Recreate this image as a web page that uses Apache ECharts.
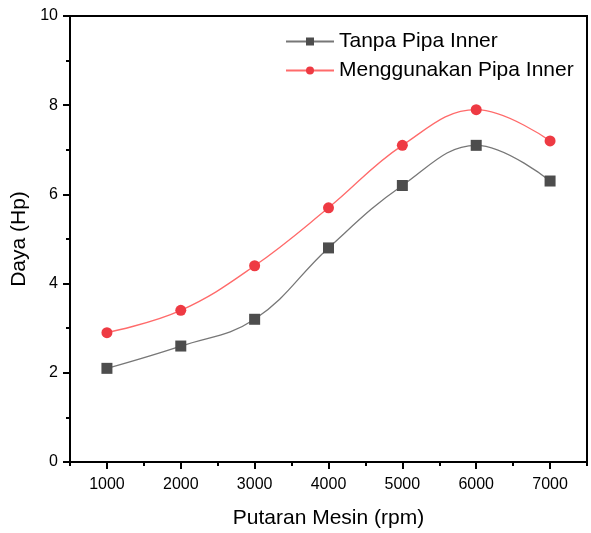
<!DOCTYPE html>
<html><head><meta charset="utf-8">
<script src="https://cdn.jsdelivr.net/npm/echarts@6/dist/echarts.min.js"></script>
<style>html,body{margin:0;padding:0;background:#fff}#c{width:591px;height:533px}</style>
</head><body><div id="c"></div>
<script>
const rpm = [1000, 2000, 3000, 4000, 5000, 6000, 7000];
const tanpa = [2.1, 2.6, 3.2, 4.8, 6.2, 7.1, 6.3];
const menggunakan = [2.9, 3.4, 4.4, 5.7, 7.1, 7.9, 7.2];
const majorX = [1000, 2000, 3000, 4000, 5000, 6000, 7000];
const minorX = [500, 1500, 2500, 3500, 4500, 5500, 6500, 7500];
const seriesNames = ['Tanpa Pipa Inner', 'Menggunakan Pipa Inner'];

const font = 'Arial, "Liberation Sans", sans-serif';
const chart = echarts.init(document.getElementById('c'));
chart.setOption({
  animation: false,
  grid: { left: 70, right: 4, top: 16, bottom: 71, outerBoundsMode: 'none', containLabel: false,
    show: true, borderColor: '#000', borderWidth: 2 },
  legend: {
    orient: 'vertical', left: 280, top: 26, itemWidth: 48, itemHeight: 10, itemGap: 8,
    textStyle: { fontFamily: font, fontSize: 21, color: '#000' },
    data: seriesNames
  },
  xAxis: [{
    type: 'value', min: 500, max: 7500,
    name: 'Putaran Mesin (rpm)', nameLocation: 'middle', nameGap: 46,
    nameTextStyle: { fontFamily: font, fontSize: 21, color: '#000' },
    axisLine: { lineStyle: { color: '#000', width: 2 } },
    axisTick: { show: true, customValues: majorX, length: 7, lineStyle: { color: '#000', width: 2 } },
    axisLabel: { customValues: majorX, margin: 15, fontFamily: font, fontSize: 16, color: '#000',
      formatter: v => String(v) },
    splitLine: { show: false }
  }, {
    type: 'value', min: 500, max: 7500, position: 'bottom',
    axisLine: { show: false },
    axisTick: { show: true, customValues: minorX, length: 4, lineStyle: { color: '#000', width: 2 } },
    axisLabel: { show: false },
    splitLine: { show: false }
  }],
  yAxis: {
    type: 'value', min: 0, max: 10, interval: 2,
    name: 'Daya (Hp)', nameLocation: 'middle', nameGap: 35,
    nameTextStyle: { fontFamily: font, fontSize: 21, color: '#000' },
    axisLine: { show: true, lineStyle: { color: '#000', width: 2 } },
    axisTick: { show: true, length: 7, lineStyle: { color: '#000', width: 2 } },
    minorTick: { show: true, splitNumber: 2, length: 4, lineStyle: { color: '#000', width: 2 } },
    axisLabel: { margin: 12, fontFamily: font, fontSize: 16, color: '#000' },
    splitLine: { show: false }
  },
  series: [{
    name: seriesNames[0], type: 'line', smooth: 0.4,
    data: rpm.map((x, i) => [x, tanpa[i]]),
    symbol: 'rect', symbolSize: 11,
    itemStyle: { color: '#4d4d4d' },
    lineStyle: { color: '#777', width: 1.3 }
  }, {
    name: seriesNames[1], type: 'line', smooth: 0.4,
    data: rpm.map((x, i) => [x, menggunakan[i]]),
    symbol: 'circle', symbolSize: 11,
    itemStyle: { color: '#ee3a43' },
    lineStyle: { color: '#ff6b6b', width: 1.3 }
  }]
});
</script></body></html>
